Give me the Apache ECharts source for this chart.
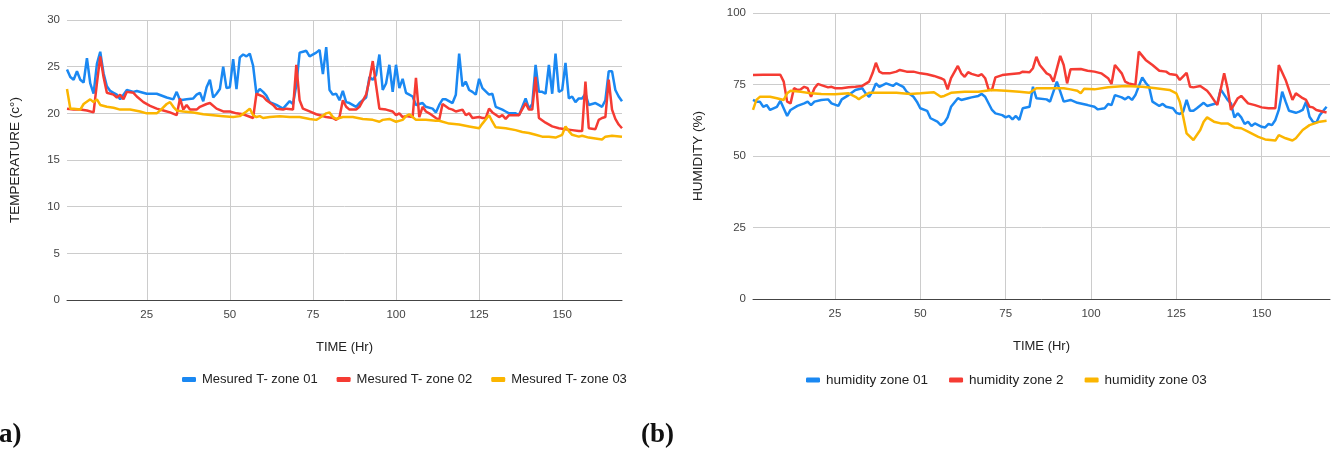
<!DOCTYPE html>
<html>
<head>
<meta charset="utf-8">
<script src="https://cdn.jsdelivr.net/npm/echarts@6/dist/echarts.min.js"></script>
<style>
html,body{margin:0;padding:0;background:#fff;}
#c{width:1336px;height:450px;}
</style>
</head>
<body>
<div id="c"></div>
<script>
// ---- tick labels ----
const hourTicks = [25, 50, 75, 100, 125, 150];

// ---- (a) Temperature, [hour, °C] ----
const tempZone01 = [[1,24.7],[2,23.9],[3,23.6],[4,24.5],[5,23.6],[6,23.3],[7,25.9],[8,23.2],[9,22.1],[10,25.3],[11,26.6],[12,24.3],[13,22.9],[14,22.4],[15,22.2],[16,22.0],[17,21.5],[18,22.0],[19,22.5],[21,22.3],[22,22.4],[25,22.1],[28,22.1],[31,21.7],[33,21.5],[34,22.3],[35,21.4],[37,21.5],[39,21.6],[40,22.0],[41,22.2],[42,21.3],[43,22.8],[44,23.6],[45,21.7],[46,22.1],[47,22.6],[48,25.0],[49,22.7],[50,22.8],[51,25.8],[52,22.6],[53,26.0],[54,26.3],[55,26.1],[56,26.4],[57,25.1],[58,22.1],[59,22.6],[60,22.3],[61,21.9],[62,21.2],[64,20.9],[66,20.5],[68,21.3],[69,21.0],[70,23.0],[71,26.5],[72,26.6],[73,26.7],[74,26.1],[76,26.5],[77,26.8],[78,24.2],[79,27.1],[80,22.5],[81,22.0],[82,22.1],[83,21.4],[84,22.4],[85,21.2],[86,21.1],[88,20.7],[89,21.1],[90,21.4],[91,21.7],[92,23.9],[93,23.6],[94,24.1],[95,26.3],[96,22.5],[97,23.2],[98,25.2],[99,22.3],[100,25.2],[101,22.7],[102,23.7],[103,22.2],[104,22.0],[105,21.8],[106,20.9],[108,21.1],[109,20.7],[111,20.5],[112,20.1],[113,20.9],[114,21.5],[115,21.5],[117,21.1],[118,22.0],[119,26.4],[120,22.9],[121,23.4],[122,22.5],[123,22.3],[124,22.0],[125,23.7],[126,22.7],[128,22.0],[129,22.1],[130,20.7],[132,20.4],[133,20.2],[134,20.0],[136,20.0],[137,19.8],[139,21.6],[140,20.5],[141,21.0],[142,25.2],[143,22.3],[144,22.3],[145,22.1],[146,25.2],[147,22.1],[148,26.4],[149,22.3],[150,22.5],[151,25.4],[152,21.6],[153,21.8],[154,21.2],[155,21.6],[156,21.6],[157,22.1],[158,20.9],[160,21.1],[161,20.9],[162,20.7],[163,21.4],[164,24.5],[165,24.5],[166,22.5],[167,21.8],[168,21.3]];
const tempZone02 = [[1,20.5],[3,20.4],[5,20.4],[7,20.3],[9,20.1],[10,23.2],[11,26.1],[12,23.9],[13,22.2],[15,22.0],[16,21.7],[17,22.0],[18,21.5],[19,22.3],[21,22.2],[22,21.8],[24,21.2],[26,20.8],[28,20.5],[30,20.3],[32,20.1],[34,19.8],[35,21.6],[36,20.4],[37,20.9],[38,20.4],[40,20.4],[41,20.7],[43,21.0],[44,21.1],[46,20.5],[48,20.2],[50,20.2],[52,20.0],[54,19.9],[57,19.5],[58,22.1],[60,21.8],[61,21.4],[63,20.9],[64,20.5],[66,20.4],[67,20.5],[69,20.4],[70,25.2],[71,21.4],[72,20.5],[74,20.2],[76,19.9],[79,19.6],[81,19.5],[82,19.3],[83,19.6],[84,21.4],[85,20.7],[86,20.4],[88,20.4],[89,20.7],[91,22.0],[92,23.6],[93,25.6],[94,23.0],[95,20.5],[97,20.4],[99,20.2],[100,19.8],[101,20.0],[102,19.6],[103,19.7],[105,19.6],[106,23.8],[107,19.6],[108,20.7],[109,20.2],[110,20.0],[112,19.5],[113,19.3],[114,21.0],[116,20.5],[117,20.4],[118,20.2],[120,20.4],[121,19.8],[122,20.0],[123,19.5],[125,19.6],[126,19.5],[127,19.5],[128,20.5],[129,20.1],[131,19.6],[132,19.8],[133,19.4],[134,19.8],[136,19.8],[137,19.8],[139,21.1],[140,20.4],[141,20.4],[142,23.9],[143,19.5],[145,19.0],[147,18.6],[149,18.4],[151,18.3],[153,18.2],[155,18.1],[156,18.1],[157,23.4],[158,18.4],[160,18.3],[161,19.3],[162,19.5],[163,19.6],[164,23.6],[165,20.4],[166,19.4],[167,18.8],[168,18.4]];
const tempZone03 = [[1,22.6],[2,20.5],[3,20.5],[5,20.4],[6,21.0],[8,21.5],[9,21.2],[10,21.5],[11,20.9],[13,20.7],[15,20.6],[17,20.4],[20,20.4],[23,20.2],[25,20.0],[28,20.0],[29,20.3],[31,21.0],[32,21.2],[33,20.7],[34,20.3],[36,20.2],[39,20.1],[42,19.9],[45,19.8],[48,19.7],[51,19.6],[53,19.7],[55,20.2],[56,20.5],[57,19.8],[58,19.6],[59,19.7],[60,19.5],[62,19.6],[65,19.7],[68,19.6],[71,19.6],[74,19.4],[76,19.3],[77,19.5],[79,20.0],[80,20.1],[81,19.6],[82,19.4],[84,19.6],[87,19.6],[90,19.4],[93,19.3],[95,19.1],[96,19.3],[98,19.4],[100,19.1],[102,19.3],[103,19.7],[104,19.9],[105,19.6],[106,19.3],[109,19.3],[112,19.2],[113,19.2],[116,18.9],[119,18.8],[122,18.6],[125,18.4],[126,18.9],[128,19.8],[129,19.1],[130,18.5],[133,18.4],[136,18.2],[138,18.0],[140,17.9],[142,17.7],[144,17.5],[146,17.5],[148,17.4],[150,17.7],[151,18.6],[152,18.1],[153,17.7],[155,17.5],[156,17.6],[158,17.4],[160,17.3],[162,17.2],[163,17.5],[165,17.6],[168,17.5]];

// ---- (b) Humidity, [hour, %] ----
const humZone01 = [[1,69.6],[2,69.0],[3,69.0],[4,67.2],[5,67.8],[6,66.1],[8,67.2],[9,69.3],[11,64.0],[12,66.1],[14,67.5],[16,68.4],[17,69.0],[18,67.8],[19,69.0],[21,69.6],[23,69.8],[24,68.4],[26,67.5],[27,69.8],[29,71.3],[31,73.1],[33,73.7],[34,71.9],[35,70.7],[36,72.5],[37,75.4],[38,74.2],[39,74.8],[40,75.4],[42,74.5],[43,75.4],[45,74.2],[46,72.5],[48,70.7],[49,69.0],[50,66.7],[52,65.8],[53,63.2],[55,62.0],[56,60.8],[57,61.6],[58,63.5],[59,67.2],[61,70.2],[62,69.6],[64,70.2],[65,70.5],[67,71.0],[68,71.7],[69,70.7],[71,66.1],[72,64.9],[74,64.3],[75,63.5],[76,64.0],[77,62.8],[78,64.0],[79,62.6],[80,66.7],[82,67.2],[83,74.2],[84,70.2],[87,69.8],[88,69.0],[90,76.0],[91,72.5],[92,69.0],[94,69.6],[96,68.6],[99,67.8],[101,67.2],[102,66.3],[104,66.7],[105,68.2],[106,67.8],[107,71.3],[109,70.5],[110,69.8],[111,70.7],[112,69.6],[113,71.3],[115,77.5],[116,75.6],[117,74.2],[118,69.0],[120,67.5],[121,68.2],[122,67.2],[124,66.7],[125,65.1],[126,64.7],[127,65.5],[128,69.6],[129,65.8],[130,65.8],[131,66.7],[133,68.6],[134,67.5],[136,68.2],[137,68.4],[138,73.3],[140,69.6],[141,68.4],[142,63.5],[143,64.9],[144,63.5],[145,61.2],[146,62.0],[147,60.5],[148,61.4],[150,60.2],[151,60.0],[152,61.2],[153,60.8],[154,62.6],[155,66.1],[156,72.5],[157,69.0],[158,65.8],[160,65.1],[161,65.5],[162,66.1],[163,69.0],[164,63.7],[165,62.0],[166,61.6],[167,64.3],[169,67.2]];
const humZone02 = [[1,78.3],[4,78.4],[9,78.4],[10,76.0],[11,69.0],[12,68.4],[13,73.7],[14,73.1],[15,73.3],[16,74.2],[17,73.7],[18,70.7],[19,73.7],[20,75.2],[21,74.8],[23,74.0],[24,74.2],[25,73.7],[27,73.7],[29,74.0],[31,74.2],[33,74.5],[35,76.0],[36,78.9],[37,82.6],[38,79.5],[39,78.9],[41,78.9],[43,79.5],[44,80.1],[46,79.5],[48,79.5],[50,78.9],[52,78.6],[54,78.0],[56,77.2],[57,76.6],[58,73.3],[59,77.2],[61,81.5],[62,78.9],[63,77.7],[64,79.3],[65,78.7],[67,78.0],[68,78.6],[69,77.2],[70,73.3],[71,73.1],[72,77.5],[74,78.3],[76,78.6],[79,78.9],[80,79.5],[82,79.3],[83,80.7],[84,84.7],[85,81.8],[87,78.9],[88,78.3],[89,76.0],[91,85.0],[92,81.8],[93,75.4],[94,80.3],[97,80.4],[99,79.8],[101,79.5],[103,78.9],[105,77.2],[106,75.2],[107,81.8],[109,78.9],[110,76.0],[111,75.4],[113,74.8],[114,86.5],[116,83.6],[118,81.8],[120,79.8],[122,79.5],[123,78.7],[125,78.3],[126,76.6],[128,79.1],[129,74.2],[130,74.0],[132,74.5],[134,72.8],[135,71.3],[137,67.8],[139,78.9],[140,73.7],[141,66.1],[143,70.2],[144,71.0],[146,68.4],[148,67.8],[150,67.0],[152,66.7],[154,66.7],[155,81.8],[157,76.6],[159,69.6],[160,71.9],[162,70.2],[163,69.6],[164,67.2],[165,67.0],[166,66.1],[168,65.5],[169,65.2]];
const humZone03 = [[1,66.1],[2,69.6],[3,70.7],[6,70.7],[8,70.2],[10,69.6],[11,71.9],[12,72.8],[15,72.5],[18,71.9],[21,71.7],[25,71.6],[29,71.9],[31,70.7],[32,69.8],[33,70.7],[35,72.1],[39,72.1],[43,72.1],[47,71.7],[50,71.9],[54,72.3],[56,70.7],[57,71.0],[59,72.1],[63,72.5],[67,72.5],[71,73.1],[75,72.8],[79,72.5],[82,72.1],[84,73.7],[88,73.7],[92,73.7],[94,73.3],[96,72.8],[97,71.9],[98,73.5],[101,73.3],[105,74.0],[110,74.5],[115,74.2],[119,73.7],[123,73.1],[125,71.9],[126,69.0],[127,63.7],[128,57.9],[130,55.6],[132,59.1],[133,62.0],[134,63.5],[136,62.0],[138,61.4],[140,61.4],[142,60.0],[144,59.7],[146,58.5],[149,56.7],[151,55.8],[154,55.4],[155,57.3],[157,56.2],[159,55.4],[160,56.2],[162,59.1],[164,60.8],[167,62.0],[169,62.3]];

const tempNames = ['Mesured T- zone 01', 'Mesured T- zone 02', 'Mesured T- zone 03'];
const humNames = ['humidity zone 01', 'humidity zone 2', 'humidity zone 03'];
const colors = ['#1A88F2', '#F53B33', '#FBB500'];

const FONT = '"Liberation Sans", Arial, sans-serif';
const chart = echarts.init(document.getElementById('c'), null, {renderer: 'canvas'});

function xAxisCfg(gridIndex, min, max) {
  return {
    type: 'value', gridIndex, min, max,
    name: 'TIME (Hr)', nameLocation: 'middle', nameGap: 41,
    nameTextStyle: {color: '#222', fontSize: 13, fontFamily: FONT},
    axisLine: {show: true, onZero: false, lineStyle: {color: '#444', width: 1}},
    axisTick: {show: false, customValues: hourTicks},
    axisLabel: {customValues: hourTicks, color: '#444', fontSize: 11.5, fontFamily: FONT, margin: 9},
    splitLine: {show: true, lineStyle: {color: '#ccc', width: 1}}
  };
}
function yAxisCfg(gridIndex, max, interval, name, gap) {
  return {
    type: 'value', gridIndex, min: 0, max, interval,
    name, nameLocation: 'middle', nameGap: gap,
    nameTextStyle: {color: '#222', fontSize: 13.5, fontFamily: FONT},
    axisLine: {show: false}, axisTick: {show: false},
    axisLabel: {color: '#444', fontSize: 11.5, fontFamily: FONT, margin: 7},
    splitLine: {show: true, lineStyle: {color: '#ccc', width: 1}}
  };
}
function lineSeries(name, data, idx, color) {
  return {
    type: 'line', name, data, xAxisIndex: idx, yAxisIndex: idx,
    showSymbol: false, symbol: 'none', smooth: false,
    lineStyle: {color, width: 2.5}, itemStyle: {color},
    emphasis: {disabled: true}, z: 3
  };
}
function legendCfg(left, names, fontSize, gap) {
  return {
    left, top: 368, data: names,
    icon: 'roundRect', itemWidth: 14, itemHeight: 5, itemGap: gap,
    textStyle: {color: '#222', fontSize, fontFamily: FONT, padding: [0, 0, 0, 1]},
    orient: 'horizontal'
  };
}

chart.setOption({
  animation: false,
  backgroundColor: '#fff',
  grid: [
    {left: 67, right: 714, top: 20, bottom: 150},
    {left: 753, right: 6, top: 13, bottom: 151}
  ],
  xAxis: [xAxisCfg(0, 1, 168), xAxisCfg(1, 1, 170)],
  yAxis: [
    yAxisCfg(0, 30, 5, 'TEMPERATURE (c°)', 45),
    yAxisCfg(1, 100, 25, 'HUMIDITY (%)', 48)
  ],
  legend: [
    legendCfg(177, tempNames, 13, 19),
    legendCfg(801, humNames, 13.5, 21)
  ],
  series: [
    lineSeries(tempNames[0], tempZone01, 0, colors[0]),
    lineSeries(tempNames[1], tempZone02, 0, colors[1]),
    lineSeries(tempNames[2], tempZone03, 0, colors[2]),
    lineSeries(humNames[0], humZone01, 1, colors[0]),
    lineSeries(humNames[1], humZone02, 1, colors[1]),
    lineSeries(humNames[2], humZone03, 1, colors[2])
  ],
  graphic: [
    {type: 'text', left: -10, top: 422, style: {text: '(a)', fontSize: 27, fontWeight: 'bold', fontFamily: '"Liberation Serif", "DejaVu Serif", serif', fill: '#111'}},
    {type: 'text', left: 641, top: 422, style: {text: '(b)', fontSize: 27, fontWeight: 'bold', fontFamily: '"Liberation Serif", "DejaVu Serif", serif', fill: '#111'}}
  ]
});
</script>
</body>
</html>
